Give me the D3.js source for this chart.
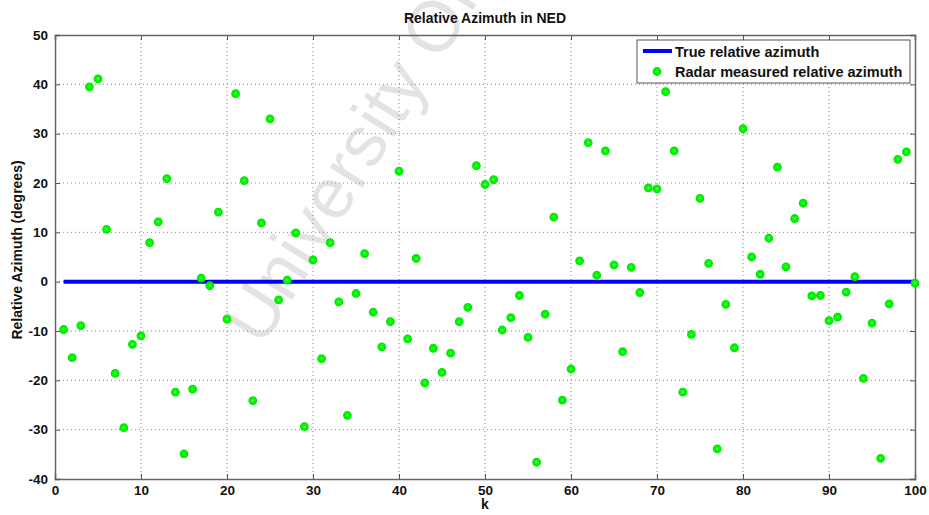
<!DOCTYPE html>
<html><head><meta charset="utf-8">
<script src="https://cdn.jsdelivr.net/npm/d3@7"></script>
<style>body{margin:0;background:#fff;} svg{display:block;font-family:"Liberation Sans",Arial,sans-serif;}</style>
</head><body>
<svg id="c" width="929" height="515"></svg>
<script>
const kValues = d3.range(1, 101);
const measured = [
 -9.7,-15.4,-8.9,39.5,41.1,10.6,-18.6,-29.6,-12.7,-11.0,
 7.9,12.1,20.9,-22.4,-34.9,-21.8,0.7,-0.8,14.1,-7.6,
 38.1,20.5,-24.1,11.9,33.0,-3.7,0.3,9.9,-29.4,4.4,
 -15.6,7.9,-4.1,-27.1,-2.4,5.7,-6.2,-13.2,-8.1,22.4,
 -11.6,4.7,-20.5,-13.5,-18.4,-14.5,-8.1,-5.2,23.5,19.7,
 20.7,-9.8,-7.3,-2.8,-11.3,-36.6,-6.6,13.1,-24.0,-17.7,
 4.2,28.2,1.3,26.5,3.4,-14.2,2.9,-2.2,19.0,18.8,
 38.5,26.5,-22.4,-10.7,16.9,3.7,-33.9,-4.6,-13.4,31.0,
 5.0,1.5,8.8,23.2,3.0,12.8,15.9,-2.9,-2.8,-7.9,
 -7.2,-2.1,1.0,-19.6,-8.4,-35.8,-4.5,24.8,26.3,-0.3
];
const trueAz = kValues.map(() => 0);
const xTicks = d3.range(0, 101, 10);
const yTicks = d3.range(-40, 51, 10);
const titleText = "Relative Azimuth in NED";
const xLabel = "k";
const yLabel = "Relative Azimuth (degrees)";
const legendLabels = ["True relative azimuth", "Radar measured relative azimuth"];

const svg = d3.select("#c");
const L = 55, R = 915, T = 35, B = 479;
const x = d3.scaleLinear().domain([0, 100]).range([L, R]);
const y = d3.scaleLinear().domain([-40, 50]).range([B, T]);

// watermark
svg.append("text").text("University Of")
  .attr("transform", "translate(262,348) rotate(-58)")
  .style("font", "72px 'Liberation Sans', Arial, sans-serif")
  .attr("fill", "#000").attr("fill-opacity", 0.11);

// grid
const g = svg.append("g");
g.selectAll(".gx").data(xTicks.slice(1, -1)).join("line")
  .attr("x1", d => x(d)).attr("x2", d => x(d)).attr("y1", T).attr("y2", B)
  .attr("stroke", "#888").attr("stroke-width", 1).attr("stroke-dasharray", "1,3");
g.selectAll(".gy").data(yTicks.slice(1, -1)).join("line")
  .attr("y1", d => y(d)).attr("y2", d => y(d)).attr("x1", L).attr("x2", R)
  .attr("stroke", "#888").attr("stroke-width", 1).attr("stroke-dasharray", "1,3");

// axes
const fontTick = "bold 13.5px 'Liberation Sans', Arial, sans-serif";
const fmt = d => String(d);
const xAxis = svg.append("g").attr("transform", `translate(0,${B})`)
  .call(d3.axisBottom(x).tickValues(xTicks).tickSize(-5).tickPadding(6).tickFormat(fmt));
const xAxisTop = svg.append("g").attr("transform", `translate(0,${T})`)
  .call(d3.axisTop(x).tickValues(xTicks).tickSize(-5).tickFormat(""));
const yAxis = svg.append("g").attr("transform", `translate(${L},0)`)
  .call(d3.axisLeft(y).tickValues(yTicks).tickSize(-5).tickPadding(7).tickFormat(fmt));
const yAxisR = svg.append("g").attr("transform", `translate(${R},0)`)
  .call(d3.axisRight(y).tickValues(yTicks).tickSize(-5).tickFormat(""));
[xAxis, xAxisTop, yAxis, yAxisR].forEach(a => {
  a.select(".domain").attr("stroke", "#666").attr("stroke-width", 1.5);
  a.selectAll(".tick line").attr("stroke", "#555").attr("stroke-width", 1);
  a.selectAll("text").style("font", fontTick).attr("fill", "#111");
});

// true line
svg.append("path").datum(kValues)
  .attr("d", d3.line().x(d => x(d)).y((d, i) => y(trueAz[i])))
  .attr("stroke", "#0000ff").attr("stroke-width", 4).attr("fill", "none");

// markers
const mk = svg.append("g");
mk.selectAll("circle.m").data(kValues).join("circle")
  .attr("cx", d => x(d)).attr("cy", (d, i) => y(measured[i])).attr("r", 3.6)
  .attr("fill", "#00ff00").attr("stroke", "#00e800").attr("stroke-width", 1.6);
mk.selectAll("circle.c").data(kValues).join("circle")
  .attr("cx", d => x(d)).attr("cy", (d, i) => y(measured[i])).attr("r", 0.8)
  .attr("fill", "#e8ffe8");

// title and labels
const labFont = "bold 14px 'Liberation Sans', Arial, sans-serif";
svg.append("text").text(titleText).attr("x", (L + R) / 2).attr("y", 23)
  .attr("text-anchor", "middle").style("font", labFont).attr("fill", "#111");
svg.append("text").text(xLabel).attr("x", (L + R) / 2).attr("y", 509)
  .attr("text-anchor", "middle").style("font", labFont).attr("fill", "#111");
svg.append("text").text(yLabel).attr("transform", `translate(22,250) rotate(-90)`)
  .attr("text-anchor", "middle").style("font", labFont).attr("fill", "#111");

// legend
const lg = svg.append("g");
lg.append("rect").attr("x", 637).attr("y", 40).attr("width", 273).attr("height", 43)
  .attr("fill", "#fff").attr("stroke", "#555").attr("stroke-width", 1);
lg.append("line").attr("x1", 643).attr("x2", 672).attr("y1", 51).attr("y2", 51)
  .attr("stroke", "#0000ff").attr("stroke-width", 4);
lg.append("circle").attr("cx", 657).attr("cy", 71.5).attr("r", 3.6)
  .attr("fill", "#00ff00").attr("stroke", "#00e800").attr("stroke-width", 1.6);
lg.append("circle").attr("cx", 657).attr("cy", 71.5).attr("r", 0.8).attr("fill", "#e8ffe8");
lg.selectAll("text.l").data(legendLabels).join("text")
  .attr("x", 675).attr("y", (d, i) => 56.5 + i * 20).text(d => d)
  .style("font", "bold 14.5px 'Liberation Sans', Arial, sans-serif").attr("fill", "#111");
</script>
</body></html>
